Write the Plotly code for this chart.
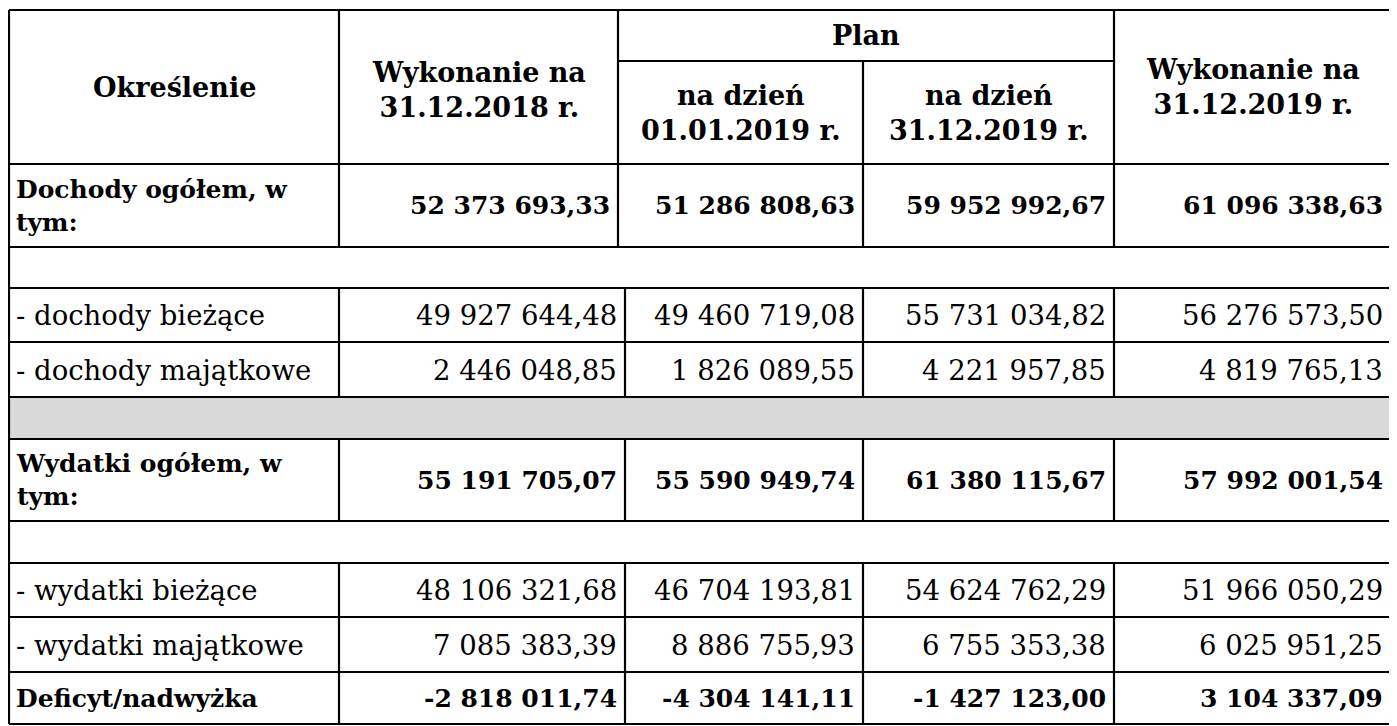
import plotly.graph_objects as go

# ---------------- data ----------------
header_first = "Określenie"
header_cols = ["Wykonanie na<br>31.12.2018 r.", "na dzień<br>01.01.2019 r.",
               "na dzień<br>31.12.2019 r.", "Wykonanie na<br>31.12.2019 r."]
header_group = "Plan"

row_labels = ["Dochody ogółem, w tym:", "", "- dochody bieżące", "- dochody majątkowe", "",
              "Wydatki ogółem, w tym:", "", "- wydatki bieżące", "- wydatki majątkowe",
              "Deficyt/nadwyżka"]
row_kinds = ["bold", "blank", "normal", "normal", "gray",
             "bold", "blank", "normal", "normal", "bold"]

wykonanie_2018 = [52373693.33, None, 49927644.48, 2446048.85, None,
                  55191705.07, None, 48106321.68, 7085383.39, -2818011.74]
plan_01012019 = [51286808.63, None, 49460719.08, 1826089.55, None,
                 55590949.74, None, 46704193.81, 8886755.93, -4304141.11]
plan_31122019 = [59952992.67, None, 55731034.82, 4221957.85, None,
                 61380115.67, None, 54624762.29, 6755353.38, -1427123.00]
wykonanie_2019 = [61096338.63, None, 56276573.50, 4819765.13, None,
                  57992001.54, None, 51966050.29, 6025951.25, 3104337.09]
series = [wykonanie_2018, plan_01012019, plan_31122019, wykonanie_2019]

# ---------------- layout geometry (screen pixels) ----------------
W, H = 1397, 726
BODY_MARGIN = 8               # default page margin around the plot div
col_edges = [9, 339, 625, 863, 1114, 1391]
col2_header = 618             # slight offset of the 2nd inner line in top rows
header_top, header_split, header_bottom = 10, 61, 164
row_edges = [164, 247, 288, 342, 397, 439, 521, 563, 617, 672, 724]

FONT = "DejaVu Serif, serif"
FS_HEAD = 27
FS_BOLD = 25
FS_REG = 27.5
LW = 2.2
PAD = 6


def fmt(v):
    s = f"{abs(v):,.2f}".replace(",", " ").replace(".", ",")
    return ("-" if v < 0 else "") + s


fig = go.Figure()
shapes = []
ann = []


def hline(x0, x1, y):
    shapes.append(dict(type="line", xref="x", yref="y", x0=x0, x1=x1, y0=y, y1=y,
                       line=dict(color="black", width=LW)))


def vline(x, y0, y1):
    shapes.append(dict(type="line", xref="x", yref="y", x0=x, x1=x, y0=y0, y1=y1,
                       line=dict(color="black", width=LW)))


def text(x, y, s, size, bold=False, xanchor="center", align="center"):
    ann.append(dict(x=x, y=y, xref="x", yref="y", text=s, showarrow=False,
                    xanchor=xanchor, yanchor="middle", align=align,
                    font=dict(family=FONT, size=size, color="black",
                              weight="bold" if bold else "normal")))


left, right = col_edges[0], col_edges[-1]

for i, kind in enumerate(row_kinds):
    if kind == "gray":
        shapes.append(dict(type="rect", xref="x", yref="y", x0=left, x1=right,
                           y0=row_edges[i], y1=row_edges[i + 1],
                           fillcolor="#d9d9d9", line=dict(width=0), layer="below"))

# ---- header ----
hline(left, right, header_top)
hline(col2_header, col_edges[4], header_split)
vline(col_edges[1], header_top, header_bottom)
vline(col2_header, header_top, header_bottom)
vline(col_edges[3], header_split, header_bottom)
vline(col_edges[4], header_top, header_bottom)

hmid = (header_top + header_bottom) / 2
text((left + col_edges[1]) / 2, hmid, header_first, FS_HEAD, bold=True)
text((col_edges[1] + col2_header) / 2, hmid + 3, header_cols[0], FS_HEAD, bold=True)
text((col2_header + col_edges[4]) / 2, (header_top + header_split) / 2, header_group, FS_HEAD, bold=True)
sub_mid = (header_split + header_bottom) / 2
text((col2_header + col_edges[3]) / 2, sub_mid, header_cols[1], FS_HEAD, bold=True)
text((col_edges[3] + col_edges[4]) / 2, sub_mid, header_cols[2], FS_HEAD, bold=True)
text((col_edges[4] + right) / 2, hmid, header_cols[3], FS_HEAD, bold=True)

# ---- body ----
for i, (lab, kind) in enumerate(zip(row_labels, row_kinds)):
    y0, y1 = row_edges[i], row_edges[i + 1]
    ymid = (y0 + y1) / 2
    hline(left, right, y0)
    if kind in ("blank", "gray"):
        continue
    c2 = col2_header if i == 0 else col_edges[2]
    edges = [left, col_edges[1], c2, col_edges[3], col_edges[4], right]
    for e in edges[1:-1]:
        vline(e, y0, y1)
    bold = kind == "bold"
    size = FS_BOLD if bold else FS_REG
    label = lab.replace(", w tym:", ", w<br>tym:")
    text(left + 5, ymid, label, size, bold=bold, xanchor="left", align="left")
    for j, s in enumerate(series):
        v = s[i]
        if v is None:
            continue
        text(edges[j + 2] - PAD, ymid, fmt(v), size, bold=bold, xanchor="right", align="right")

hline(left, right, row_edges[-1])
vline(left, header_top, row_edges[-1])
vline(right, header_top, row_edges[-1])

fig.update_layout(
    width=W - BODY_MARGIN, height=H - BODY_MARGIN,
    margin=dict(l=0, r=0, t=0, b=0),
    paper_bgcolor="white", plot_bgcolor="white",
    font=dict(family=FONT),
    xaxis=dict(range=[BODY_MARGIN, W], visible=False, fixedrange=True),
    yaxis=dict(range=[H, BODY_MARGIN], visible=False, fixedrange=True),
    shapes=shapes, annotations=ann, showlegend=False,
)
fig.write_html("out.html")
